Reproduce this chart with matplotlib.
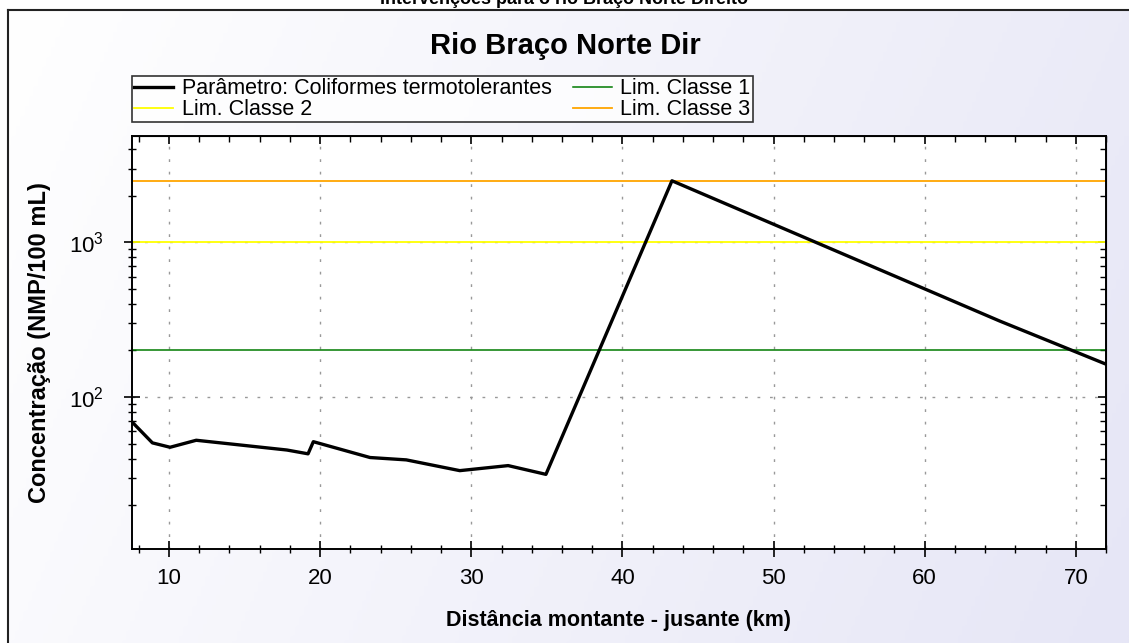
import numpy as np
import matplotlib
matplotlib.use("Agg")
import matplotlib.pyplot as plt
from matplotlib.ticker import MultipleLocator, LogLocator, NullFormatter

plt.rcParams['font.family'] = ['Liberation Sans', 'DejaVu Sans']
plt.rcParams['mathtext.fontset'] = 'custom'
plt.rcParams['mathtext.rm'] = 'Liberation Sans'
plt.rcParams['mathtext.it'] = 'Liberation Sans'

# dados
distancia = [7.55, 8.9, 10.07, 11.8, 17.8, 19.2, 19.55, 23.3, 25.7, 29.24,
             32.44, 34.94, 43.28, 60.0, 64.96, 72.0]
coliformes = [69, 50.5, 47.3, 52.5, 45.4, 42.9, 51.4, 40.6, 39.2, 33.4,
              36.0, 31.6, 2500, 500, 310, 163]

lim_classe1 = 200
lim_classe2 = 1000
lim_classe3 = 2500

fig = plt.figure(figsize=(11.29, 6.43), dpi=100)
fig.patch.set_facecolor('white')

# fundo com degradê e moldura (só esquerda e topo visíveis)
bg = fig.add_axes([8 / 1129, 0, 1 - 8 / 1129, 1 - 10 / 643], zorder=-10)
gx, gy = np.meshgrid(np.linspace(0, 1, 256), np.linspace(0, 1, 256))
grad = 0.8 * gx + 0.2 * gy
cmap = matplotlib.colors.LinearSegmentedColormap.from_list(
    'bg', ['#ffffff', '#e6e6f6'])
bg.imshow(grad, cmap=cmap, aspect='auto', extent=[0, 1, 0, 1], origin='upper')
bg.set_xticks([])
bg.set_yticks([])
for k, s in bg.spines.items():
    s.set_linewidth(1.5)
    s.set_color('#222222')
    s.set_visible(k in ('left', 'top'))

fig.text(0.5, 1 - 4 / 643, 'Intervenções para o rio Braço Norte Direito',
         ha='center', va='baseline', fontsize=13, fontweight='bold')

ax = fig.add_axes([132 / 1129, 1 - 549 / 643, (1106 - 132) / 1129, (549 - 136) / 643])
ax.set_facecolor('white')

l0, = ax.plot(distancia, coliformes, color='black', lw=2.4,
              label='Parâmetro: Coliformes termotolerantes', zorder=5)
l1 = ax.axhline(lim_classe1, color='#007a00', lw=1.1, label='Lim. Classe 1')
l2 = ax.axhline(lim_classe2, color='#ffff00', lw=1.3, label='Lim. Classe 2')
l3 = ax.axhline(lim_classe3, color='#ffa500', lw=1.3, label='Lim. Classe 3')

ax.set_yscale('log')
ax.set_xlim(7.55, 72)
ax.set_ylim(10.4, 4870)
ax.xaxis.set_major_locator(MultipleLocator(10))
ax.xaxis.set_minor_locator(MultipleLocator(2))
ax.yaxis.set_minor_locator(LogLocator(base=10, subs=np.arange(2, 10)))

ax.grid(True, which='major', color='#999999', linestyle=(0, (2, 7)), lw=1)
ax.tick_params(which='both', direction='inout', labelsize=16)
ax.tick_params(which='major', length=11, width=1.2)
ax.tick_params(which='minor', length=5.5, width=1)
ax.tick_params(axis='x', pad=8)
ax.tick_params(axis='y', pad=15)
for s in ax.spines.values():
    s.set_linewidth(1.4)

# ticks internos no topo e à direita
top = ax.secondary_xaxis('top')
top.xaxis.set_major_locator(MultipleLocator(10))
top.xaxis.set_minor_locator(MultipleLocator(2))
top.tick_params(which='both', direction='in', labeltop=False)
top.tick_params(which='major', length=6, width=1.2)
top.tick_params(which='minor', length=4, width=1)
right = ax.secondary_yaxis('right')
right.yaxis.set_major_locator(LogLocator(base=10))
right.yaxis.set_minor_locator(LogLocator(base=10, subs=np.arange(2, 10)))
right.yaxis.set_minor_formatter(NullFormatter())
right.tick_params(which='both', direction='in', labelright=False)
right.tick_params(which='major', length=6, width=1.2)
right.tick_params(which='minor', length=4, width=1)

ax.set_xlabel('Distância montante - jusante (km)', fontsize=15.5, fontweight='bold', labelpad=15)
ax.set_ylabel('Concentração (NMP/100 mL)', fontsize=17, fontweight='bold', labelpad=13)

fig.text(565 / 1129, 1 - 46 / 643, 'Rio Braço Norte Dir', ha='center', va='center',
         fontsize=21, fontweight='bold')

leg = fig.legend(handles=[l0, l2, l1, l3], ncol=2, loc='upper left',
                 bbox_to_anchor=(132 / 1129, 1 - 76 / 643), fontsize=15.5,
                 frameon=True, fancybox=False, edgecolor='black',
                 borderpad=0.1, labelspacing=0.0, handlelength=1.8,
                 handletextpad=0.4, columnspacing=1.0, borderaxespad=0)
leg.get_frame().set_linewidth(1.2)
leg.get_frame().set_facecolor('white')

fig.savefig('out.png', dpi=100)
